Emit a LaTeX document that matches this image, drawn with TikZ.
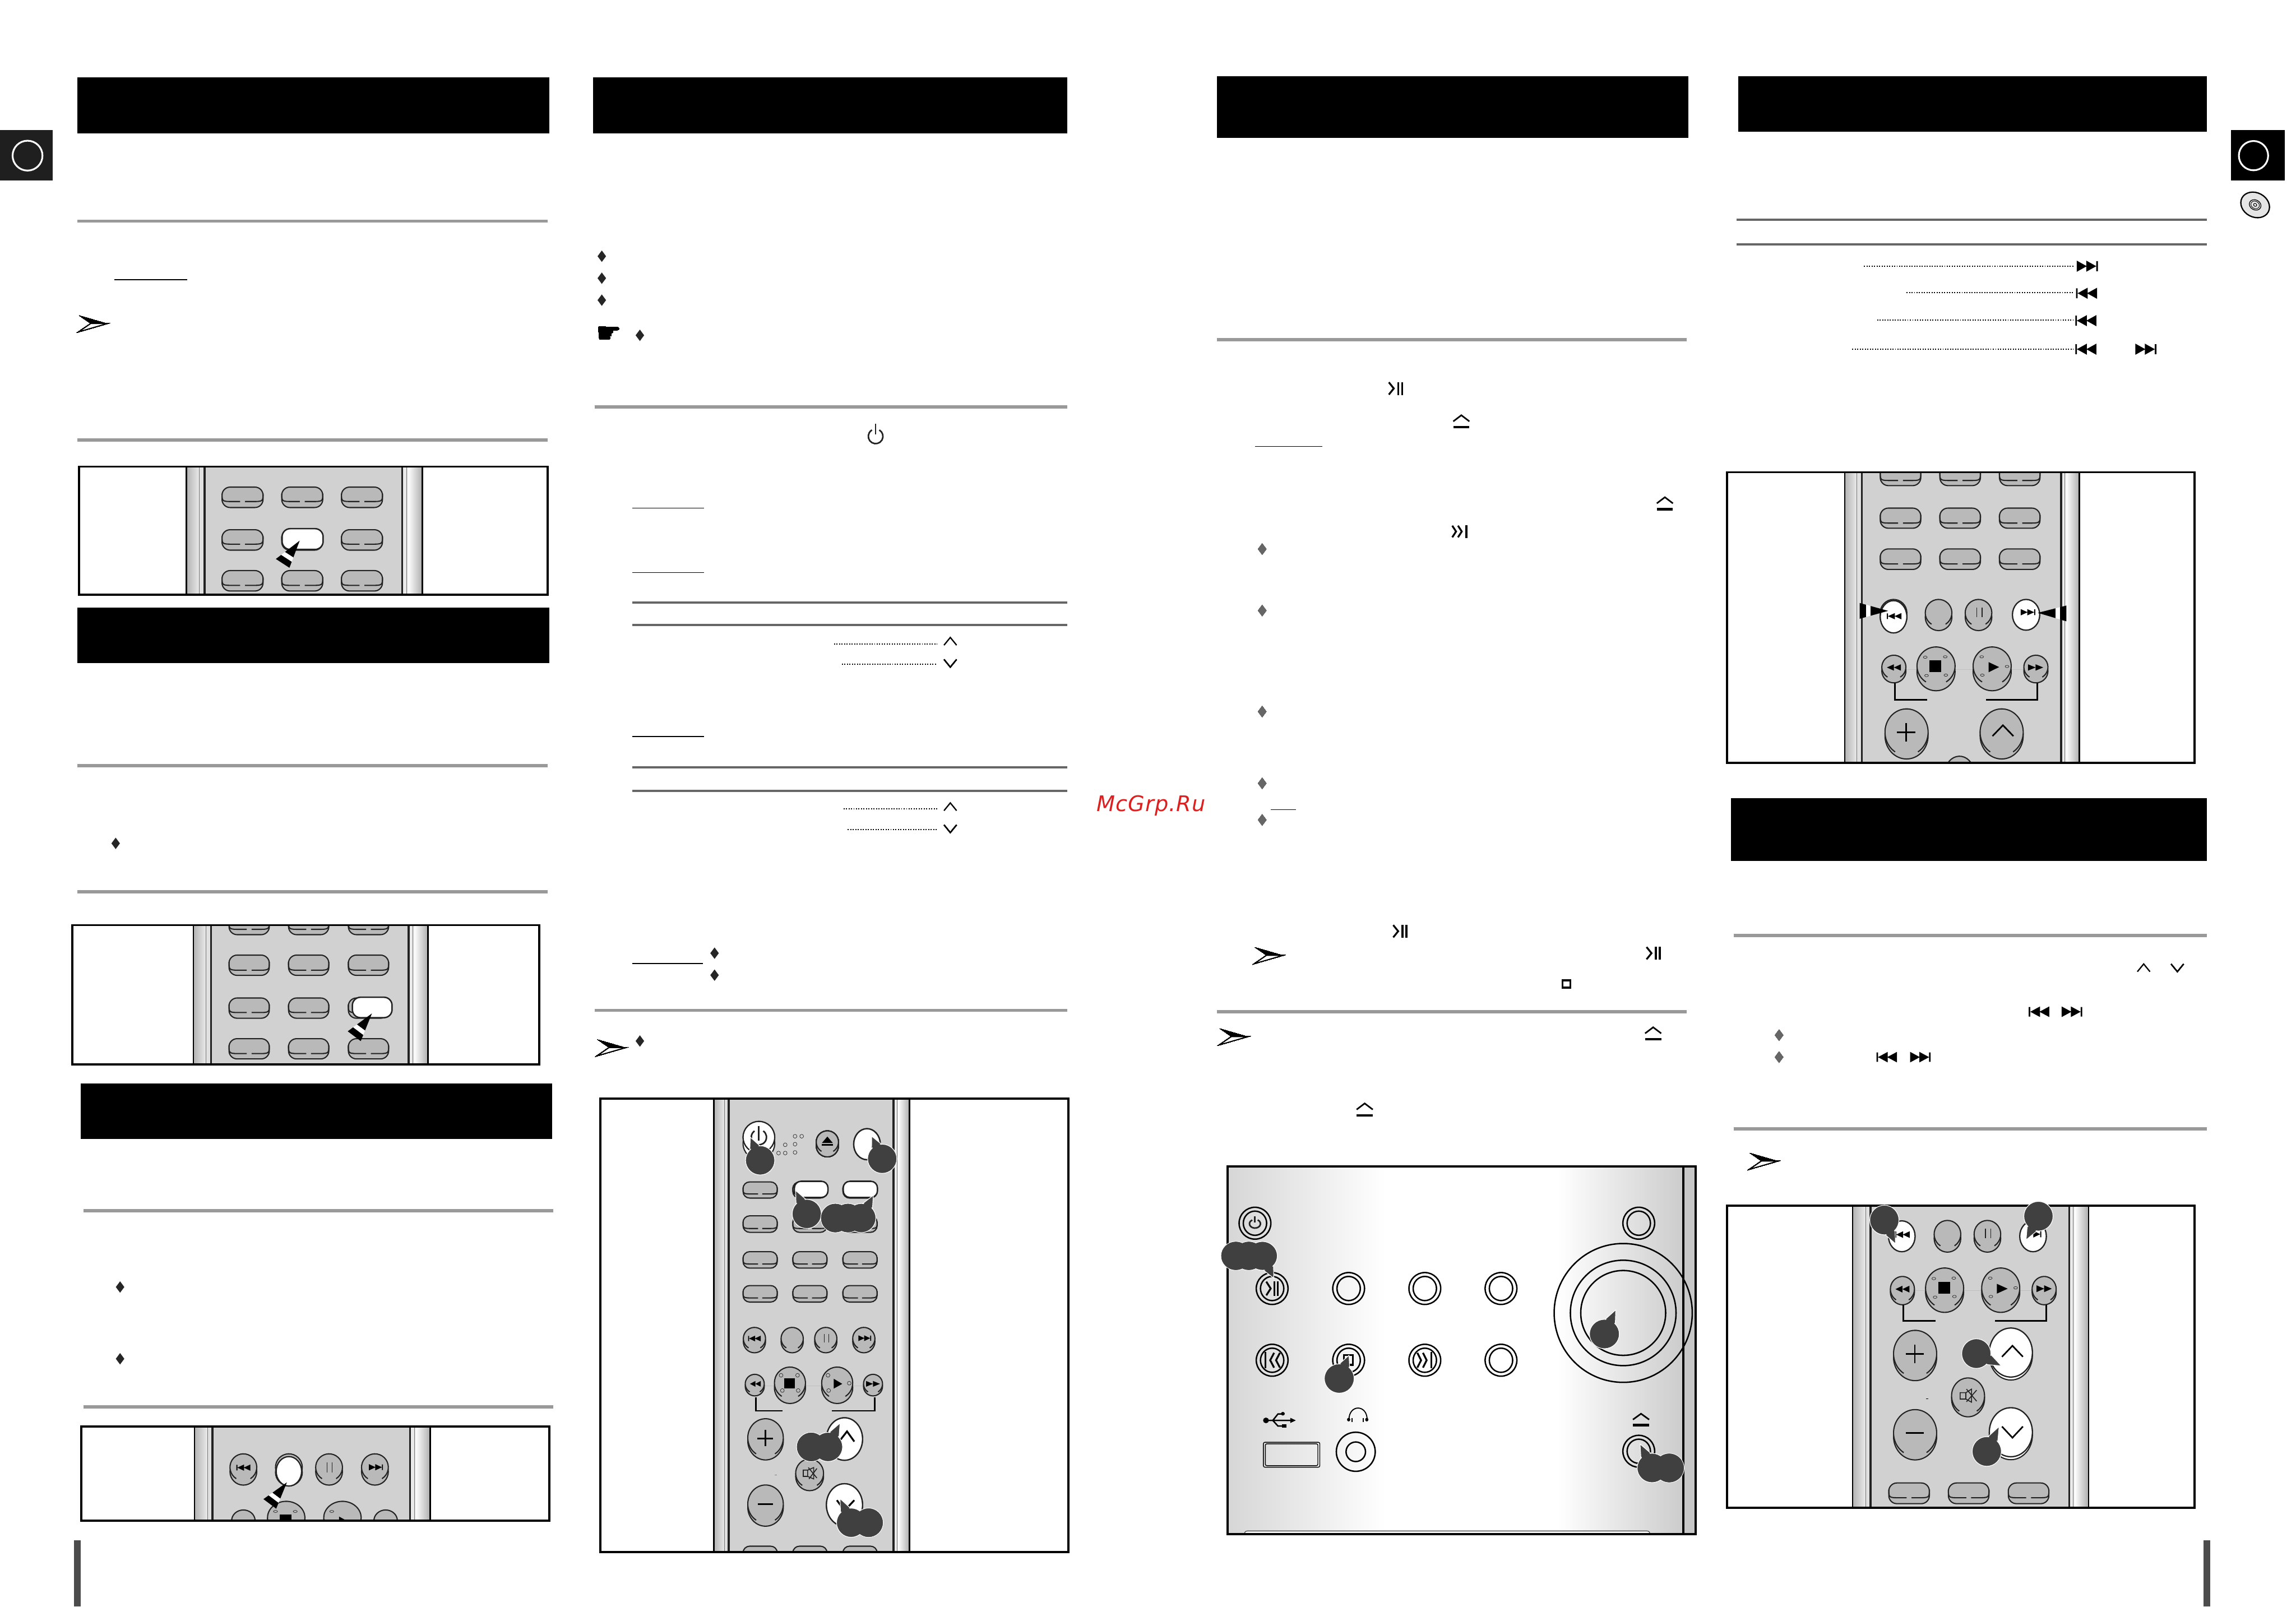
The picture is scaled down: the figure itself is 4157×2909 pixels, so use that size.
\documentclass[tikz,border=0pt]{standalone}
\usepackage{fontspec}
\usetikzlibrary{calc}
\newfontfamily\djv{DejaVu Sans}
\definecolor{panelgray}{HTML}{D1D1D1}
\definecolor{btngray}{HTML}{B9B9B9}
\definecolor{blobgray}{HTML}{404040}
\definecolor{ink}{HTML}{222222}
\definecolor{wmred}{HTML}{DC2020}
\tikzset{
  btn/.style={draw=ink,line width=.45pt},
  frameline/.style={draw=black,line width=.8pt},
  grule/.style={draw=black!40,line width=1.25pt},
  drule/.style={draw=black!60,line width=.85pt},
  uline/.style={draw=black,line width=.3pt},
  dotline/.style={draw=black,line width=.42pt,dash pattern=on .42pt off .55pt},
  icon/.style={draw=black,line width=.7pt},
  ringline/.style={draw=black,line width=.55pt},
}
\def\capr{.11cm}
\newcommand\capsule[5]{%
  \draw[btn,fill=btngray,rounded corners=\capr] ({#1-#4/2},#2) rectangle ({#1+#4/2},#3);
  \draw[btn] ({#1-#4/2},{#2+.45*(#5-#2)}) .. controls ({#1-#4/2},#5) and ({#1-#4/2},#5) .. ({#1-.22*#4},#5) -- ({#1-.06*#4},#5);
  \draw[btn] ({#1+#4/2},{#2+.45*(#5-#2)}) .. controls ({#1+#4/2},#5) and ({#1+#4/2},#5) .. ({#1+.22*#4},#5) -- ({#1+.06*#4},#5);
}
\newcommand\capwhite[4]{%
  \draw[draw=ink,line width=.55pt,fill=white,rounded corners=\capr] ({#1-#4/2},#2) rectangle ({#1+#4/2},#3);
}
\newcommand\ov[5]{%
  \draw[btn,fill=btngray] (#1,{#2+#5}) ellipse[x radius=#3,y radius=#4];
  \fill[btngray] (#1,#2) ellipse[x radius=#3,y radius=#4];
  \draw[btn] ({#1+#3*cos(122)},{#2+#4*sin(122)}) arc[start angle=122,end angle=418,x radius=#3,y radius=#4];
}
\newcommand\ovw[5]{%
  \draw[btn,fill=white] (#1,{#2+#5}) ellipse[x radius=#3,y radius=#4];
  \draw[draw=ink,line width=.5pt,fill=white] (#1,#2) ellipse[x radius=#3,y radius=#4];
}
\newcommand\rstrip[6]{%
  \fill[panelgray] (#2,#5) rectangle (#3,#6);
  \shade[left color=black!30,right color=black!8] (#1,#5) rectangle ({#1+.72*(#2-#1)},#6);
  \fill[black!12] ({#1+.72*(#2-#1)},#5) rectangle (#2,#6);
  \shade[left color=white,right color=black!32] ({#3+.28*(#4-#3)},#5) rectangle (#4,#6);
  \fill[black!8] (#3,#5) rectangle ({#3+.28*(#4-#3)},#6);
  \draw[draw=black!55,line width=.22pt] ({#1+.72*(#2-#1)},#5) -- ({#1+.72*(#2-#1)},#6);
  \draw[draw=black!55,line width=.22pt] ({#3+.22*(#4-#3)},#5) -- ({#3+.22*(#4-#3)},#6);
  \draw[draw=ink,line width=.8pt] (#2,#5) -- (#2,#6);
  \draw[draw=ink,line width=.8pt] (#3,#5) -- (#3,#6);
  \draw[draw=black,line width=.55pt] (#1,#5) -- (#1,#6);
  \draw[draw=black,line width=.55pt] (#4,#5) -- (#4,#6);
}
\newcommand\pressmark[6]{%
  \coordinate (pt) at (#1,#2);
  \coordinate (pa) at (#3,#4);
  \coordinate (pb) at (#5,#6);
  \fill[black] (pt) -- ($(pt)!.62!(pa)$) -- ($(pt)!.62!(pb)$) -- cycle;
  \fill[white] ($(pt)!.62!(pa)$) -- ($(pt)!.78!(pa)$) -- ($(pt)!.78!(pb)$) -- ($(pt)!.62!(pb)$) -- cycle;
  \fill[black] ($(pt)!.78!(pa)$) -- (pa) -- (pb) -- ($(pt)!.78!(pb)$) -- cycle;
}
\newcommand\blobfill[4]{\fill[blobgray] (#1,#2) ellipse[x radius=#3,y radius=#4];}
\newcommand\blobplain[4]{\filldraw[draw=white,line width=.25pt,fill=blobgray] (#1,#2) ellipse[x radius=#3,y radius=#4];}
\newcommand\blob[6]{%
  \pgfmathsetmacro\blobang{atan2((#6-#2)/#4,(#5-#1)/#3)}%
  \filldraw[draw=white,line width=.25pt,fill=blobgray] ({#1+#3*cos(\blobang+22)},{#2+#4*sin(\blobang+22)}) -- (#5,#6) -- ({#1+#3*cos(\blobang-22)},{#2+#4*sin(\blobang-22)}) -- cycle;
  \filldraw[draw=white,line width=.25pt,fill=blobgray] (#1,#2) ellipse[x radius=#3,y radius=#4];
  \fill[blobgray] ({#1+.9*#3*cos(\blobang+22)},{#2+.9*#4*sin(\blobang+22)}) -- ($(#1,#2)!.9!(#5,#6)$) -- ({#1+.9*#3*cos(\blobang-22)},{#2+.9*#4*sin(\blobang-22)}) -- cycle;
}
\newcommand\symNext[4]{\begin{scope}[shift={(#1,#2)},xscale=#3,yscale=#4]
  \fill[black] (-1,-1)--(-.05,0)--(-1,1)--cycle (-.1,-1)--(.85,0)--(-.1,1)--cycle (.85,-.9) rectangle (1,.9);
\end{scope}}
\newcommand\symPrev[4]{\symNext{#1}{#2}{-#3}{#4}}
\newcommand\symFF[4]{\begin{scope}[shift={(#1,#2)},xscale=#3,yscale=#4]
  \fill[black] (-1,-1)--(0,0)--(-1,1)--cycle (0,-1)--(1,0)--(0,1)--cycle;
\end{scope}}
\newcommand\symPP[4]{\begin{scope}[shift={(#1,#2)},xscale=#3,yscale=#4]
  \draw[icon] (-1,-.95)--(-.25,0)--(-1,.95);
  \draw[icon] (.4,-1)--(.4,1) (1,-1)--(1,1);
\end{scope}}
\newcommand\symSkip[4]{\begin{scope}[shift={(#1,#2)},xscale=#3,yscale=#4]
  \draw[icon] (-1,-.9)--(-.5,0)--(-1,.9) (-.25,-.9)--(.25,0)--(-.25,.9);
  \draw[icon] (.85,-1)--(.85,1);
\end{scope}}
\newcommand\symEject[4]{\begin{scope}[shift={(#1,#2)},xscale=#3,yscale=#4]
  \draw[draw=black,line width=.6pt] (-1,-.05)--(0,-1)--(1,-.05);
  \draw[draw=black,line width=1pt] (-1,.85)--(1,.85);
\end{scope}}
\newcommand\symChev[4]{\begin{scope}[shift={(#1,#2)},xscale=#3,yscale=#4]
  \draw[draw=black,line width=.5pt] (-1,.6)--(0,-.6)--(1,.6);
\end{scope}}
\newcommand\symPower[4]{\begin{scope}[shift={(#1,#2)},xscale=#3,yscale=#4]
  \draw[draw=ink,line width=.6pt] ({cos(-60)},{sin(-60)}) arc[start angle=-60,end angle=240,radius=1];
  \draw[draw=ink,line width=.6pt] (0,-1.75)--(0,-.3);
\end{scope}}
\newcommand\dmd[3]{\fill[#3] ({#1-2.9},#2)--(#1,{#2-3.9})--({#1+2.9},#2)--(#1,{#2+3.9})--cycle;}
\newcommand\notearrow[2]{\begin{scope}[shift={(#1,#2)}]
  \filldraw[draw=black,line width=.35pt,fill=white] (0,5.5)--(19,0)--(8,0)--cycle;
  \fill[black] (0,-5.5)--(19,0)--(8,0)--cycle;
\end{scope}}
\newcommand\smc[2]{\draw[draw=ink,line width=.15pt] (#1,#2) ellipse[x radius=6,y radius=6];}
\newcommand\ring[2]{%
  \draw[ringline] (#1,#2) ellipse[x radius=49,y radius=62];
  \draw[ringline] (#1,#2) ellipse[x radius=36,y radius=47];
}
\begin{document}
\begin{tikzpicture}[x=0.0075cm,y=-0.0075cm]
\useasboundingbox (0,0) rectangle (4157,2909);
\fill[white] (0,0) rectangle (4157,2909);

% ---------- page furniture, in units of the 1568 wide view
\begin{scope}[scale=2.6511]
\foreach \xa/\ya/\xb/\yb in {53/53/375/91,405/53/729/91,831/52/1153/94,1187/52/1507/90,53/415/375/453,55/740/377/778,1182/545/1507/588}
  \fill[black] (\xa,\ya) rectangle (\xb,\yb);
\fill[black!88] (0,89) rectangle (36,123.4);
\draw[draw=white,line width=.68pt] (18.8,106.3) circle[radius=10.2];
\fill[black] (1523.5,89) rectangle (1560.5,123.4);
\draw[draw=white,line width=.68pt] (1539,106.3) circle[radius=10];
\foreach \xa/\xb/\yy in {53/374/151,53/374/300.5,53/374/523,53/374/609,57/378/827,57/378/961,406/729/278,406/729/690,831/1152/232,831/1152/691,1184/1507/639,1184/1507/771}
  \draw[grule] (\xa,\yy)--(\xb,\yy);
\foreach \xa/\xb/\yy in {432/729/411.5,432/729/427,432/729/524,432/729/540,1186/1507/150,1186/1507/167}
  \draw[drule] (\xa,\yy)--(\xb,\yy);
\foreach \xa/\xb/\yy in {78/128/191,432/481/347,432/481/391,432/481/503,432/480/658,857/903/305,868/885/553}
  \draw[uline] (\xa,\yy)--(\xb,\yy);
\foreach \xa/\xb/\yy in {1273/1416/181.7,1302/1416/200,1282/1416/218.5,1265/1416/238.5,569.6/640/440,575/640/453.5,576/640/552.5,579/640/566.5}
  \draw[dotline] (\xa,\yy)--(\xb,\yy);
\foreach \xx/\yy in {411/175,411/190,411/205,437/229,79/576,82/879,82/928,488/651,488/666,437/711}
  \dmd{\xx}{\yy}{black!85}
\foreach \xx/\yy in {862/375,862/417,862/486,862/535,862/560,1215/707,1215/722}
  \dmd{\xx}{\yy}{black!60}
\notearrow{54}{221}
\notearrow{408}{715.5}
\notearrow{857}{652.5}
\notearrow{833}{708}
\notearrow{1195}{793}
\node[inner sep=0pt,font=\djv\fontsize{11}{11}\selectfont] (hand) at (416,228.5) {☛};
\symPP{953}{265.3}{4.5}{4.4}
\symPP{956}{636}{4.5}{4.4}
\symPP{1129}{651}{4.5}{4.4}
\symSkip{997}{363}{5.2}{4.4}
\symEject{998}{288}{5.5}{4.4}
\symEject{1137}{344}{5.5}{4.4}
\symEject{1129}{706}{5.5}{4.4}
\symEject{932}{758}{5.5}{4.4}
\symPower{598}{298}{5}{5}
\foreach \xx/\yy in {649/438,649/551,1464/661}
  \symChev{\xx}{\yy}{4.3}{4.4}
\foreach \xx/\yy in {649/453,649/566,1487/661}
  \symChev{\xx}{\yy}{4.3}{-4.4}
\draw[draw=black,line width=.75pt] (1067,669.5) rectangle (1072.5,674.5);
\symNext{1425.5}{181.8}{7.2}{3.8}
\symPrev{1425}{200.3}{7.2}{3.8}
\symPrev{1424.5}{219}{7.2}{3.8}
\symPrev{1424.5}{238.5}{7.2}{3.8}
\symNext{1465.5}{238.5}{7.2}{3.8}
\symPrev{1392.5}{691}{7}{3.6}
\symNext{1415}{691}{7}{3.6}
\symPrev{1288.5}{722}{7}{3.6}
\symNext{1311.5}{722}{7}{3.6}
\fill[black!70] (50.7,1052) rectangle (55,1097.3);
\fill[black!70] (1505,1052) rectangle (1509.5,1097.3);
\end{scope}
% disc
\begin{scope}[shift={(4083,371)},rotate=-28]
  \draw[draw=black,line width=.5pt,fill=black!10] (0,0) ellipse[x radius=27,y radius=22];
  \draw[draw=black,line width=.28pt] (0,0) ellipse[x radius=11,y radius=9];
  \draw[draw=black,line width=.2pt] (0,0) ellipse[x radius=8,y radius=6.5];
  \draw[draw=black,line width=.25pt,fill=white] (0,0) ellipse[x radius=3,y radius=2.5];
\end{scope}
\node[inner sep=0pt,anchor=base west,text=wmred,font=\djv\itshape\fontsize{8.3}{8.3}\selectfont\addfontfeature{LetterSpace=2.5}] (wm) at (1985,1469) {McGrp.Ru};

% ---------- box 1
\begin{scope}[shift={(0,100)},xscale=.6633,yscale=.6378]
\begin{scope}
\clip (216,1168) rectangle (1495,1532);
\rstrip{509}{558}{1098}{1153}{1168}{1532}
\foreach \cx in {662,825,988}{\capsule{\cx}{1226}{1284}{112}{1267}\capsule{\cx}{1463}{1521}{112}{1505}}
\capsule{662}{1347}{1405}{112}{1388}
\capsule{988}{1347}{1405}{112}{1388}
\capsule{825}{1347}{1405}{112}{1388}
\capwhite{826}{1344}{1403}{112}
\pressmark{818}{1378}{753}{1430}{790}{1455}
\end{scope}
\draw[frameline] (216,1168) rectangle (1495,1532);
\end{scope}

% ---------- box 2
\begin{scope}[shift={(120,1660)},xscale=.5612,yscale=.3333]
\begin{scope}
\clip (19,45) rectangle (1526,802);
\rstrip{410}{467}{1105}{1167}{45}{802}
\foreach \cx in {590,782,975}{\capsule{\cx}{-13}{97}{130}{68}\capsule{\cx}{208}{318}{130}{290}\capsule{\cx}{662}{772}{130}{743}}
\capsule{590}{441}{551}{130}{520}
\capsule{782}{441}{551}{130}{520}
\capsule{975}{441}{551}{130}{520}
\capwhite{987}{437}{548}{128}
\pressmark{986}{525}{908}{622}{950}{675}
\end{scope}
\draw[frameline] (19,45) rectangle (1526,802);
\end{scope}

% ---------- box 3
\begin{scope}[shift={(100,2560)},xscale=.6061,yscale=.3333]
\begin{scope}
\clip (78,68) rectangle (1476,580);
\rstrip{416}{470}{1060}{1120}{68}{580}
\ov{562}{290}{40}{73}{24}
\ov{818}{290}{40}{73}{24}
\ov{955}{290}{40}{73}{24}
\ov{698}{290}{40}{73}{28}
\draw[draw=ink,line width=.5pt,fill=white] (698,312) ellipse[x radius=38,y radius=80];
\symPrev{562}{292}{21}{17}
\draw[draw=ink,line width=.3pt] (812,262)--(812,318) (827,262)--(827,318);
\symNext{958}{290}{21}{17}
\ov{562}{580}{35}{58}{15}
\ov{690}{565}{56}{90}{30}
\ov{858}{565}{56}{90}{30}
\ov{987}{580}{35}{58}{15}
\smc{658}{530}\smc{717}{530}\smc{826}{530}
\fill[black] (670,548) rectangle (706,600);
\fill[black] (848,558)--(880,590)--(848,620)--cycle;
\pressmark{692}{372}{622}{463}{660}{515}
\end{scope}
\draw[frameline] (78,68) rectangle (1476,580);
\end{scope}
\fill[black!70] (134.5,2789) rectangle (146,2909);

% ---------- box 4
\def\capr{.09cm}
\begin{scope}[shift={(1060,1950)},xscale=.574,yscale=.574]
\begin{scope}
\clip (47,68) rectangle (1523,1498);
\rstrip{405}{452}{972}{1022}{68}{1498}
\ovw{547}{190}{50}{50}{20}
\draw[draw=ink,line width=.6pt] ({547+24*cos(-55)},{190+24*sin(-55)}) arc[start angle=-55,end angle=235,radius=24];
\draw[draw=ink,line width=.6pt] (547,155)--(547,200);
\foreach \xx/\yy in {661/187,682/187,630/214,661/212,609/240,630/240,661/238}
  \smc{\xx}{\yy}
\ov{763}{205}{35}{35}{12}
\fill[black] (763,188)--(780,208)--(746,208)--cycle;
\fill[black] (746,212) rectangle (780,217);
\draw[draw=ink,line width=.55pt,fill=white] (888,212) ellipse[x radius=42,y radius=49];
\foreach \cx in {551,708,866}{\capsule{\cx}{438}{490}{108}{478}\capsule{\cx}{551}{603}{108}{590}\capsule{\cx}{658}{710}{108}{697}\capsule{\cx}{1480}{1532}{108}{1520}}
\capsule{551}{331}{382}{108}{369}
\capsule{708}{331}{382}{108}{369}
\capsule{866}{331}{382}{108}{369}
\capwhite{712}{329}{380}{106}
\capwhite{867}{329}{380}{108}
\ov{533}{825}{35}{35}{10}
\ov{652}{825}{35}{35}{10}
\ov{758}{825}{35}{35}{10}
\ov{878}{825}{35}{35}{10}
\symPrev{533}{825}{20}{9}
\draw[draw=ink,line width=.3pt] (753,810)--(753,837) (767,810)--(767,837);
\symNext{881}{824}{20}{9}
\draw[draw=black!25,line width=.2pt] (565,974)--(875,974);
\ov{534}{968}{30}{30}{8}
\ov{907}{968}{30}{30}{8}
\ov{645}{965}{49}{50}{15}
\ov{794}{965}{49}{50}{15}
\symFF{536}{968}{-17}{9}
\symFF{907}{968}{22}{9}
\fill[black] (627,950) rectangle (660,982);
\fill[black] (783,952)--(810,968)--(783,983)--cycle;
\smc{617}{941}\smc{669}{941}\smc{621}{989}\smc{671}{989}\smc{765}{941}\smc{832}{966}\smc{767}{989}
\draw[draw=black,line width=.6pt] (538,1010)--(538,1053)--(622,1053);
\draw[draw=black,line width=.6pt] (913,1010)--(913,1053)--(778,1053);
\ov{568}{1138}{56}{60}{10}
\draw[draw=black,line width=.7pt] (568,1113)--(568,1165) (542,1140)--(592,1140);
\ovw{817}{1142}{57}{67}{0}
\draw[draw=black,line width=.7pt] (800,1150)--(825,1118)--(848,1150);
\ov{568}{1347}{56}{60}{10}
\draw[draw=black,line width=.7pt] (544,1347)--(592,1347);
\ovw{817}{1350}{57}{67}{0}
\draw[draw=black,line width=.7pt] (793,1335)--(817,1368)--(848,1335);
\ov{707}{1250}{44}{45}{10}
\draw[draw=ink,line width=.35pt] (687,1240) rectangle (701,1260) (701,1240)--(720,1232)--(720,1268)--(701,1260) (703,1232)--(730,1265) (730,1235)--(705,1268);
\draw[draw=black!50,line width=.2pt] (597,1256)--(603,1256);
\end{scope}
\draw[frameline] (47,68) rectangle (1523,1498);
\blob{551}{263}{46}{46}{520}{190}
\blob{936}{258}{46}{46}{903}{187}
\blob{698}{432}{46}{46}{663}{358}
\blobplain{788}{445}{46}{46}
\blobplain{828}{445}{46}{46}
\blob{870}{445}{46}{46}{908}{373}
\blobfill{788}{445}{45}{45}\blobfill{828}{445}{45}{45}
\blobplain{712}{1167}{46}{46}
\blob{765}{1167}{46}{46}{803}{1092}
\blobfill{712}{1167}{45}{45}
\blobplain{893}{1406}{46}{46}
\blob{838}{1406}{46}{46}{803}{1330}
\blobfill{893}{1406}{45}{45}
\end{scope}

% ---------- box 5, front panel
\begin{scope}[shift={(2180,2070)},xscale=.5869,yscale=.4655]
\shade[left color=black!16,right color=white] (73,90) rectangle (560,1520);
\shade[left color=white,right color=black!20] (1090,90) rectangle (1478,1520);
\fill[black!22] (1478,90) rectangle (1517,1520);
\draw[draw=black,line width=.8pt] (1478,90)--(1478,1520);
\draw[draw=black!70,line width=.3pt,fill=white] (125,1520) .. controls (125,1508) and (130,1508) .. (140,1508) -- (1360,1508) .. controls (1370,1508) and (1375,1508) .. (1375,1520);
\ring{157}{311}\ring{1341}{311}
\foreach \cx in {210,446,681,916}{\ring{\cx}{565}\ring{\cx}{844}}
\ring{1341}{1198}
\symPower{157}{313}{17}{17}
\symPP{210}{565}{18}{28}
\symSkip{681}{844}{23}{32}
\symSkip{210}{844}{-24}{32}
\draw[draw=black,line width=.7pt] (431,824) rectangle (459,862);
\foreach \rx/\ry in {213/270,163/205,131/165}
  \draw[draw=black,line width=.55pt] (1293,660) ellipse[x radius=\rx,y radius=\ry];
% usb
\draw[draw=black,line width=.3pt,rounded corners=.02cm] (183,1163) rectangle (357,1260);
\draw[draw=black,line width=.3pt,rounded corners=.02cm] (189,1169) rectangle (351,1254);
\draw[draw=black,line width=.55pt] (192,1078)--(268,1078) (212,1078)--(228,1053)--(243,1053) (212,1078)--(228,1100)--(245,1100);
\fill[black] (191,1078) ellipse[x radius=9,y radius=11];
\fill[black] (243,1052) ellipse[x radius=6,y radius=7];
\fill[black] (240,1092) rectangle (254,1107);
\fill[black] (266,1068)--(283,1078)--(266,1088)--cycle;
% phones
\draw[draw=black,line width=.4pt] (447,1075) .. controls (447,1015) and (503,1015) .. (503,1075);
\fill[black] (446,1075) ellipse[x radius=5,y radius=7];
\fill[black] (502,1075) ellipse[x radius=5,y radius=7];
\draw[draw=black,line width=.4pt] (456,1068)--(456,1085) (491,1068)--(491,1085);
\draw[ringline] (468,1200) ellipse[x radius=60,y radius=76];
\draw[ringline] (468,1200) ellipse[x radius=30,y radius=38];
\symEject{1348}{1076}{25}{24}
\draw[frameline] (73,90) rectangle (1517,1520);
\blobplain{98}{438}{46}{56}
\blobplain{138}{438}{46}{56}
\blob{180}{438}{46}{56}{215}{525}
\blobfill{98}{438}{45}{55}\blobfill{138}{438}{45}{55}
\blob{417}{915}{46}{57}{447}{825}
\blob{1235}{742}{46}{57}{1270}{648}
\blobplain{1435}{1263}{46}{57}
\blob{1382}{1263}{46}{57}{1345}{1170}
\blobfill{1435}{1263}{45}{56}
\end{scope}

% ---------- box 6
\def\capr{.11cm}
\begin{scope}[shift={(3100,840)},xscale=.574,yscale=.3571]
\begin{scope}
\clip (47,42) rectangle (1521,1515);
\rstrip{418}{472}{1100}{1158}{42}{1515}
\foreach \cx in {594,782,970}{\capsule{\cx}{8}{110}{128}{84}\capsule{\cx}{224}{326}{128}{300}\capsule{\cx}{431}{535}{128}{507}}
\ov{572}{755}{42}{68}{20}
\draw[draw=ink,line width=.5pt,fill=white] (572,775) ellipse[x radius=42,y radius=82];
\symPrev{574}{772}{23}{16}
\ov{714}{755}{42}{68}{22}
\ov{840}{755}{42}{68}{22}
\draw[draw=ink,line width=.3pt] (835,728)--(835,776) (851,728)--(851,776);
\draw[draw=ink,line width=.5pt,fill=white] (990,765) ellipse[x radius=43,y radius=78];
\symNext{996}{752}{23}{16}
\draw[draw=black!25,line width=.2pt] (600,1043)--(1000,1043);
\ov{573}{1030}{38}{60}{20}
\ov{1021}{1030}{38}{60}{20}
\ov{706}{1024}{60}{96}{30}
\ov{883}{1024}{60}{96}{30}
\symFF{573}{1032}{-22}{16}
\symFF{1020}{1032}{24}{16}
\fill[black] (685,997) rectangle (723,1056);
\fill[black] (872,1005)--(905,1030)--(872,1056)--cycle;
\smc{672}{980}\smc{735}{978}\smc{676}{1073}\smc{737}{1071}\smc{850}{978}\smc{930}{1027}\smc{852}{1071}
\draw[draw=black,line width=.6pt] (576,1112)--(576,1195)--(678,1195);
\draw[draw=black,line width=.6pt] (1026,1112)--(1026,1195)--(864,1195);
\ov{613}{1360}{68}{118}{18}
\draw[draw=black,line width=.6pt] (612,1315)--(612,1408) (583,1360)--(641,1360);
\ov{913}{1360}{68}{118}{18}
\draw[draw=black,line width=.6pt] (884,1380)--(917,1325)--(950,1380);
\ov{780}{1560}{44}{78}{10}
\pressmark{555}{745}{465}{705}{465}{785}
\pressmark{1027}{755}{1117}{718}{1117}{798}
\end{scope}
\draw[frameline] (47,42) rectangle (1521,1515);
\end{scope}

% ---------- box 7
\begin{scope}[shift={(3100,2160)},xscale=.574,yscale=.3827]
\begin{scope}
\clip (47,60) rectangle (1521,1490);
\rstrip{443}{500}{1126}{1187}{60}{1490}
\draw[draw=ink,line width=.5pt,fill=white] (598,205) ellipse[x radius=42,y radius=73];
\symPrev{600}{197}{23}{16}
\ov{742}{195}{42}{65}{20}
\ov{868}{195}{42}{65}{20}
\draw[draw=ink,line width=.3pt] (862,168)--(862,215) (879,168)--(879,215);
\draw[draw=ink,line width=.5pt,fill=white] (1012,205) ellipse[x radius=42,y radius=73];
\symNext{1015}{195}{23}{16}
\draw[draw=black!25,line width=.2pt] (630,463)--(1020,463);
\ov{600}{455}{38}{60}{14}
\ov{1047}{455}{38}{60}{14}
\ov{733}{450}{60}{95}{20}
\ov{910}{450}{60}{95}{20}
\symFF{600}{455}{-22}{16}
\symFF{1047}{453}{24}{16}
\fill[black] (713,421) rectangle (751,476);
\fill[black] (898,430)--(932,453)--(898,476)--cycle;
\smc{699}{405}\smc{762}{403}\smc{703}{493}\smc{764}{490}\smc{877}{403}\smc{957}{449}\smc{879}{490}
\draw[draw=black,line width=.6pt] (603,530)--(603,606)--(704,606);
\draw[draw=black,line width=.6pt] (1054,530)--(1054,606)--(892,606);
\ov{640}{760}{68}{110}{18}
\draw[draw=black,line width=.6pt] (639,717)--(639,805) (610,762)--(668,762);
\ovw{942}{755}{68}{116}{14}
\draw[draw=black,line width=.6pt] (914,775)--(947,723)--(980,775);
\ov{640}{1135}{68}{110}{18}
\draw[draw=black,line width=.6pt] (611,1135)--(668,1135);
\ovw{942}{1132}{68}{116}{14}
\draw[draw=black,line width=.6pt] (914,1105)--(947,1158)--(980,1105);
\ov{807}{960}{52}{85}{14}
\draw[draw=ink,line width=.35pt] (782,945) rectangle (800,975) (800,945)--(818,928)--(818,990)--(800,975) (802,928)--(834,985) (834,933)--(802,988);
\draw[draw=black,line width=.3pt] (675,973)--(681,973);
\foreach \cx in {621,809,998}{\capsule{\cx}{1372}{1470}{128}{1442}}
\end{scope}
\draw[frameline] (47,60) rectangle (1521,1490);
\blob{543}{128}{46}{70}{578}{240}
\blob{1029}{110}{46}{70}{990}{222}
\blob{833}{760}{46}{70}{912}{818}
\blob{866}{1223}{46}{70}{905}{1105}
\end{scope}
\end{tikzpicture}
\end{document}
